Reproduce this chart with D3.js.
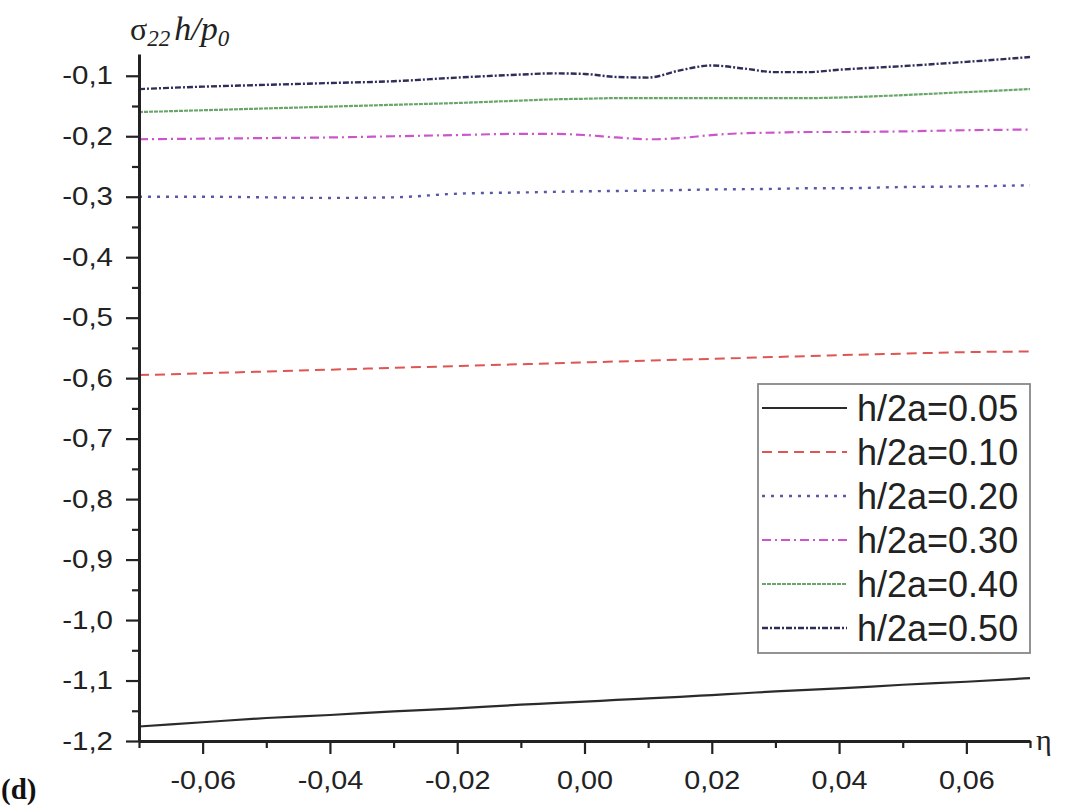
<!DOCTYPE html>
<html>
<head>
<meta charset="utf-8">
<script src="https://cdn.jsdelivr.net/npm/d3@7"></script>
<style>
  body { margin: 0; background: #fff; }
  svg { display: block; }
</style>
</head>
<body>
<div class="canvas"></div>
<script>
// eta values (x axis)
const eta = [-0.07,-0.06,-0.05,-0.04,-0.03,-0.02,-0.01,-0.005,0,0.005,0.01,0.015,0.02,0.025,0.03,0.035,0.04,0.05,0.06,0.07]

// sigma22 h/p0 for each h/2a
const s005 = [-1.176,-1.169,-1.162,-1.157,-1.151,-1.146,-1.140,-1.1375,-1.135,-1.132,-1.1295,-1.127,-1.124,-1.121,-1.118,-1.1155,-1.113,-1.107,-1.102,-1.096]
const s010 = [-0.595,-0.592,-0.589,-0.586,-0.583,-0.580,-0.577,-0.5755,-0.574,-0.5725,-0.571,-0.5695,-0.568,-0.5665,-0.565,-0.5635,-0.562,-0.5595,-0.557,-0.556]
const s020 = [-0.300,-0.300,-0.301,-0.302,-0.301,-0.295,-0.293,-0.292,-0.291,-0.2905,-0.290,-0.289,-0.288,-0.2875,-0.287,-0.286,-0.286,-0.284,-0.283,-0.281]
const s030 = [-0.205,-0.204,-0.203,-0.202,-0.200,-0.198,-0.196,-0.196,-0.198,-0.202,-0.205,-0.203,-0.198,-0.195,-0.194,-0.193,-0.193,-0.192,-0.190,-0.189]
const s040 = [-0.160,-0.157,-0.154,-0.151,-0.148,-0.145,-0.141,-0.139,-0.138,-0.137,-0.137,-0.137,-0.137,-0.137,-0.137,-0.137,-0.136,-0.132,-0.127,-0.122]
const s050 = [-0.122,-0.118,-0.115,-0.112,-0.109,-0.103,-0.098,-0.096,-0.097,-0.102,-0.103,-0.091,-0.083,-0.088,-0.094,-0.094,-0.090,-0.084,-0.077,-0.069]

const legendLabels = ['h/2a=0.05','h/2a=0.10','h/2a=0.20','h/2a=0.30','h/2a=0.40','h/2a=0.50']

// tick values
const xMajor = [-0.06,-0.04,-0.02,0,0.02,0.04,0.06]
const xMinor = [-0.07,-0.05,-0.03,-0.01,0.01,0.03,0.05,0.07]
const yMajor = [-1.2,-1.1,-1.0,-0.9,-0.8,-0.7,-0.6,-0.5,-0.4,-0.3,-0.2,-0.1]
const yMinor = [-1.15,-1.05,-0.95,-0.85,-0.75,-0.65,-0.55,-0.45,-0.35,-0.25,-0.15]

const margin = {top:54, right:36, bottom:67, left:139}
const graphWidth = 1066 - margin.left - margin.right
const graphHeight = 808 - margin.top - margin.bottom

const svg = d3.select('.canvas').append('svg').attr('width',1066).attr('height',808)
const graph = svg.append('g').attr('transform',`translate(${margin.left},${margin.top})`)

// scales
const x = d3.scaleLinear().domain([-0.07,0.07]).range([0,graphWidth])
const y = d3.scaleLinear().domain([-1.2,-0.064]).range([graphHeight,0])

const fmt = d => d3.format('.2f')(d).replace('.',',').replace('−','-')
const fmtY = d => d3.format('.1f')(d).replace('.',',').replace('−','-')

// series styles
const series = [
  {vals:s005, color:'#2b2b2b', dash:null, w:2.2},
  {vals:s010, color:'#dd5555', dash:'10,6', w:2},
  {vals:s020, color:'#5858a8', dash:'3,6', w:2.4},
  {vals:s030, color:'#cc55cc', dash:'9,4,2,4', w:2.2},
  {vals:s040, color:'#6aa66a', dash:'4,1', w:2.2},
  {vals:s050, color:'#2e2e58', dash:'6,2,2,2', w:2.4}
]

const line = d3.line().x((d,i)=>x(eta[i])).y(d=>y(d)).curve(d3.curveMonotoneX)

graph.selectAll('path.series').data(series).enter().append('path')
  .attr('class','series')
  .attr('fill','none')
  .attr('stroke',d=>d.color)
  .attr('stroke-width',d=>d.w)
  .attr('stroke-dasharray',d=>d.dash)
  .attr('d',d=>line(d.vals))

// axes
const xAxisGroup = graph.append('g').attr('transform',`translate(0,${graphHeight})`)
const xMinorGroup = graph.append('g').attr('transform',`translate(0,${graphHeight})`)
const yAxisGroup = graph.append('g')
const yMinorGroup = graph.append('g')

xAxisGroup.call(d3.axisBottom(x).tickValues(xMajor).tickFormat(fmt).tickSize(13).tickPadding(17).tickSizeOuter(0))
xMinorGroup.call(d3.axisBottom(x).tickValues(xMinor).tickFormat('').tickSize(7).tickSizeOuter(0))
yAxisGroup.call(d3.axisLeft(y).tickValues(yMajor).tickFormat(fmtY).tickSize(13).tickSizeOuter(0))
yMinorGroup.call(d3.axisLeft(y).tickValues(yMinor).tickFormat('').tickSize(7).tickSizeOuter(0))

graph.selectAll('.domain').attr('stroke','#222').attr('stroke-width',3)
xMinorGroup.select('.domain').remove()
yMinorGroup.select('.domain').remove()
graph.selectAll('.tick line').attr('stroke','#222').attr('stroke-width',2.2)

xAxisGroup.selectAll('text')
  .attr('font-family','Liberation Sans, Arial, sans-serif').attr('font-size',25).attr('fill','#222')
  .attr('transform','scale(1.15,1)')
yAxisGroup.selectAll('text')
  .attr('font-family','Liberation Sans, Arial, sans-serif').attr('font-size',25).attr('fill','#222')
  .attr('x',-26/1.18).attr('transform','scale(1.18,1)')

// axis titles
const title = svg.append('text').attr('x',130).attr('y',40)
  .attr('font-family','Liberation Serif, Times New Roman, serif').attr('fill','#222')
title.append('tspan').attr('font-size',32).text('σ')
title.append('tspan').attr('font-size',23).attr('font-style','italic').attr('dy',6).text('22')
title.append('tspan').attr('font-size',34).attr('font-style','italic').attr('dy',-6).attr('dx',4).text('h/p')
title.append('tspan').attr('font-size',23).attr('font-style','italic').attr('dy',6).text('0')

svg.append('text').attr('x',margin.left + graphWidth + 6).attr('y',margin.top + graphHeight + 9)
  .attr('font-family','Liberation Serif, Times New Roman, serif').attr('font-size',30).attr('fill','#222')
  .text('η')

svg.append('text').attr('x',1).attr('y',799)
  .attr('font-family','Liberation Serif, Times New Roman, serif').attr('font-weight','bold').attr('font-size',29).attr('fill','#111')
  .text('(d)')

// legend
const legend = svg.append('g').attr('transform','translate(758,384)')
legend.append('rect').attr('width',272).attr('height',269)
  .attr('fill','#fff').attr('stroke','#888').attr('stroke-width',1.8)

const rows = legend.selectAll('g.row').data(series).enter().append('g')
  .attr('class','row')
  .attr('transform',(d,i)=>`translate(0,${24 + i*44})`)

rows.append('line').attr('x1',4).attr('x2',89).attr('y1',0).attr('y2',0)
  .attr('stroke',d=>d.color).attr('stroke-width',d=>d.w).attr('stroke-dasharray',d=>d.dash)

rows.append('text').attr('x',99).attr('y',13)
  .attr('font-family','Liberation Sans, Arial, sans-serif').attr('font-size',36).attr('fill','#222')
  .text((d,i)=>legendLabels[i])
</script>
</body>
</html>
